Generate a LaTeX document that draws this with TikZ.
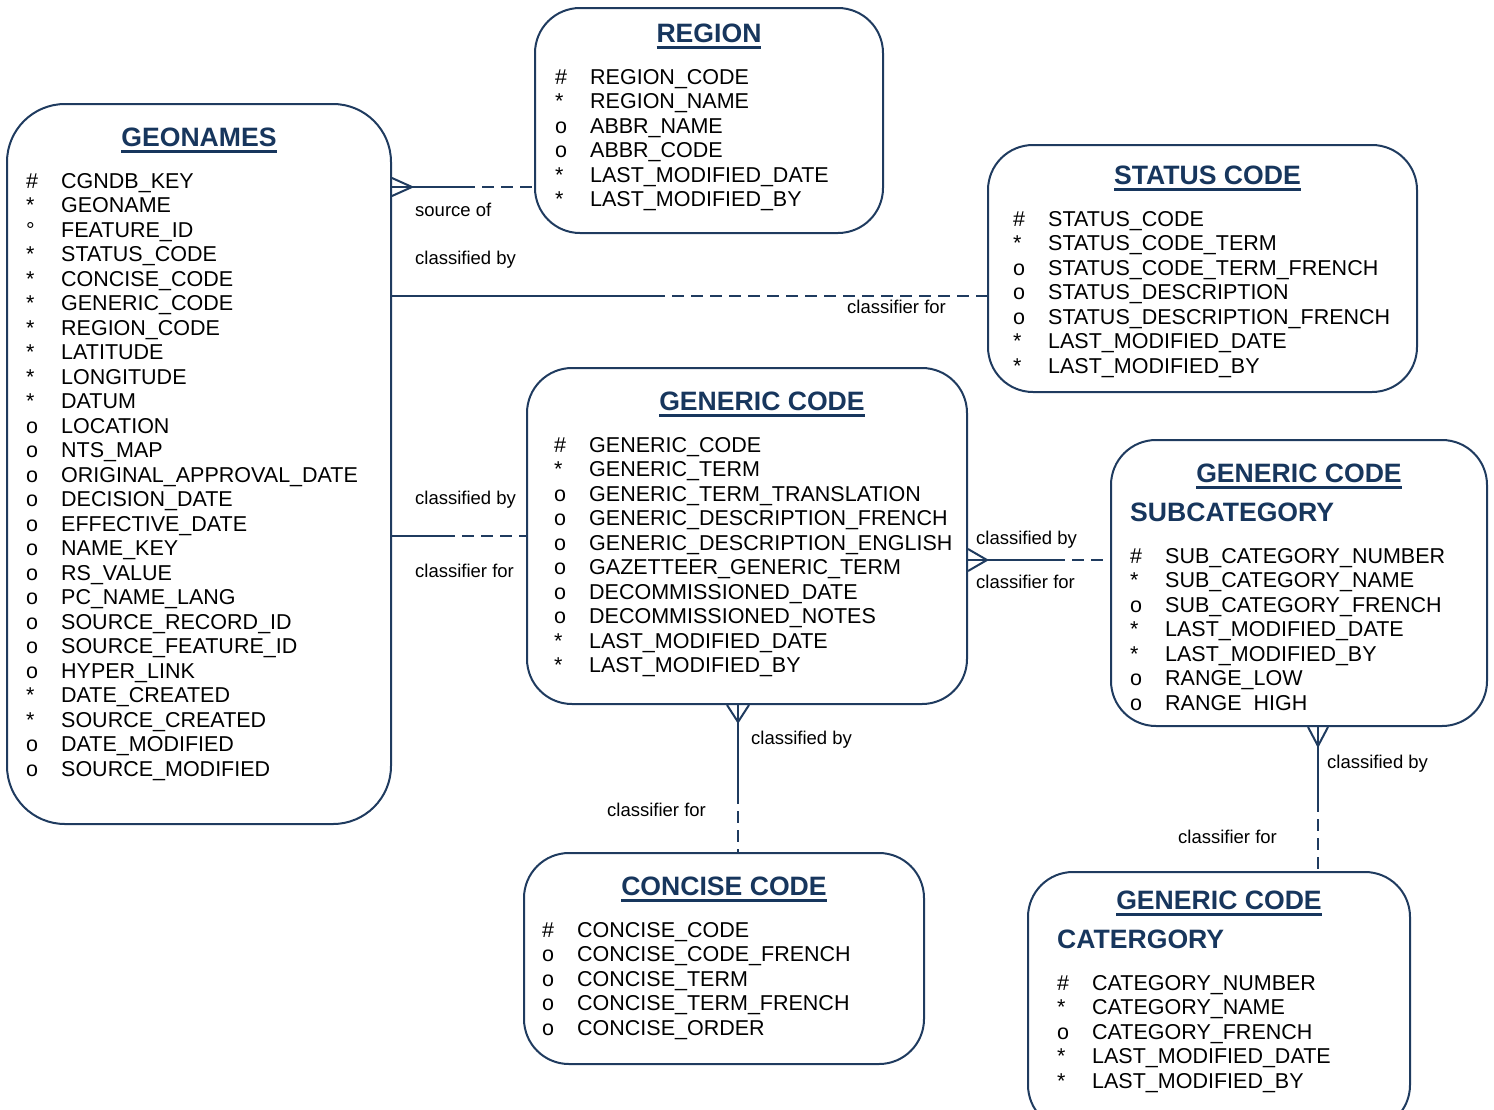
\documentclass[tikz,border=0pt]{standalone}
\usepackage{fontspec}
\setmainfont{Liberation Sans}
\usepackage{xcolor}
\usepackage{tikz}
\usetikzlibrary{positioning}

\definecolor{erblue}{HTML}{1F3B5F}
\definecolor{titleblue}{HTML}{17365D}
\newcommand{\entline}[1]{\setbox0\hbox{#1}\rlap{\rule[-6.5pt]{\wd0}{2.8pt}}\box0}
\newcommand{\attrs}[1]{\begin{tabular}{@{}p{35pt}@{}l@{}}#1\end{tabular}}

\begin{document}
\begin{tikzpicture}[x=1pt,y=1pt,
  entity/.style={draw=erblue,line width=2pt,rounded corners=45pt,inner sep=0pt},
  title/.style={font=\fontsize{26.6}{30}\selectfont\bfseries,text=titleblue,inner sep=0pt,anchor=base},
  subtitle/.style={font=\fontsize{26.6}{30}\selectfont\bfseries,text=titleblue,inner sep=0pt,anchor=base west},
  attrlist/.style={font=\fontsize{21.5}{24.5}\selectfont,inner sep=0pt},
  rel/.style={font=\fontsize{18.5}{22}\selectfont,inner sep=0pt,anchor=base west},
  solidpart/.style={draw=erblue,line width=2pt},
  dashpart/.style={draw=erblue,line width=2pt,dash pattern=on 12pt off 7pt},
  crow/.style={draw=erblue,line width=2pt,line join=miter}]

\useasboundingbox (0,0) rectangle (1494,-1109);

\node[entity, rounded corners=58pt, minimum width=384pt, minimum height=720pt] (geonames) at (199,-464) {};
\node[entity, minimum width=348pt, minimum height=225pt] (region) at (709,-120.5) {};
\node[entity, minimum width=429pt, minimum height=247pt] (status) at (1202.5,-268.5) {};
\node[entity, minimum width=440pt, minimum height=336pt] (generic) at (747,-536) {};
\node[entity, minimum width=376pt, minimum height=286pt] (subcat) at (1299,-583) {};
\node[entity, minimum width=400pt, minimum height=211pt] (concise) at (724,-958.5) {};
\node[entity, minimum width=382pt, minimum height=258pt] (category) at (1219,-1001) {};

\node[title] (geonames title) at ([yshift=-43pt]geonames.north) {\entline{GEONAMES}};
\node[title] (region title) at ([yshift=-35pt]region.north) {\entline{REGION}};
\node[title] (status title) at ([xshift=5pt,yshift=-40pt]status.north) {\entline{STATUS CODE}};
\node[title] (generic title) at ([xshift=15pt,yshift=-43pt]generic.north) {\entline{GENERIC CODE}};
\node[title] (subcat title) at ([yshift=-43pt]subcat.north) {\entline{GENERIC CODE}};
\node[subtitle] (subcat sub) at ([shift={(20pt,-82pt)}]subcat.north west) {SUBCATEGORY};
\node[title] (concise title) at ([yshift=-43pt]concise.north) {\entline{CONCISE CODE}};
\node[title] (category title) at ([yshift=-38pt]category.north) {\entline{GENERIC CODE}};
\node[subtitle] (category sub) at ([shift={(30pt,-77pt)}]category.north west) {CATERGORY};

\node[attrlist, below right=68pt and 20pt of geonames.north west] (geonames attrs) {\attrs{%
  \# & CGNDB\_KEY\\
  {*} & GEONAME\\
  ° & FEATURE\_ID\\
  {*} & STATUS\_CODE\\
  {*} & CONCISE\_CODE\\
  {*} & GENERIC\_CODE\\
  {*} & REGION\_CODE\\
  {*} & LATITUDE\\
  {*} & LONGITUDE\\
  {*} & DATUM\\
  o & LOCATION\\
  o & NTS\_MAP\\
  o & ORIGINAL\_APPROVAL\_DATE\\
  o & DECISION\_DATE\\
  o & EFFECTIVE\_DATE\\
  o & NAME\_KEY\\
  o & RS\_VALUE\\
  o & PC\_NAME\_LANG\\
  o & SOURCE\_RECORD\_ID\\
  o & SOURCE\_FEATURE\_ID\\
  o & HYPER\_LINK\\
  {*} & DATE\_CREATED\\
  {*} & SOURCE\_CREATED\\
  o & DATE\_MODIFIED\\
  o & SOURCE\_MODIFIED}};

\node[attrlist, below right=60pt and 21pt of region.north west] (region attrs) {\attrs{%
  \# & REGION\_CODE\\
  {*} & REGION\_NAME\\
  o & ABBR\_NAME\\
  o & ABBR\_CODE\\
  {*} & LAST\_MODIFIED\_DATE\\
  {*} & LAST\_MODIFIED\_BY}};

\node[attrlist, below right=65pt and 26pt of status.north west] (status attrs) {\attrs{%
  \# & STATUS\_CODE\\
  {*} & STATUS\_CODE\_TERM\\
  o & STATUS\_CODE\_TERM\_FRENCH\\
  o & STATUS\_DESCRIPTION\\
  o & STATUS\_DESCRIPTION\_FRENCH\\
  {*} & LAST\_MODIFIED\_DATE\\
  {*} & LAST\_MODIFIED\_BY}};

\node[attrlist, below right=68pt and 28pt of generic.north west] (generic attrs) {\attrs{%
  \# & GENERIC\_CODE\\
  {*} & GENERIC\_TERM\\
  o & GENERIC\_TERM\_TRANSLATION\\
  o & GENERIC\_DESCRIPTION\_FRENCH\\
  o & GENERIC\_DESCRIPTION\_ENGLISH\\
  o & GAZETTEER\_GENERIC\_TERM\\
  o & DECOMMISSIONED\_DATE\\
  o & DECOMMISSIONED\_NOTES\\
  {*} & LAST\_MODIFIED\_DATE\\
  {*} & LAST\_MODIFIED\_BY}};

\node[attrlist, below right=107pt and 20pt of subcat.north west] (subcat attrs) {\attrs{%
  \# & SUB\_CATEGORY\_NUMBER\\
  {*} & SUB\_CATEGORY\_NAME\\
  o & SUB\_CATEGORY\_FRENCH\\
  {*} & LAST\_MODIFIED\_DATE\\
  {*} & LAST\_MODIFIED\_BY\\
  o & RANGE\_LOW\\
  o & RANGE\ \ HIGH}};

\node[attrlist, below right=68pt and 19pt of concise.north west] (concise attrs) {\attrs{%
  \# & CONCISE\_CODE\\
  o & CONCISE\_CODE\_FRENCH\\
  o & CONCISE\_TERM\\
  o & CONCISE\_TERM\_FRENCH\\
  o & CONCISE\_ORDER}};

\node[attrlist, below right=102pt and 30pt of category.north west] (category attrs) {\attrs{%
  \# & CATEGORY\_NUMBER\\
  {*} & CATEGORY\_NAME\\
  o & CATEGORY\_FRENCH\\
  {*} & LAST\_MODIFIED\_DATE\\
  {*} & LAST\_MODIFIED\_BY}};

\coordinate (reg split) at (463,-187);
\coordinate (stat split) at (653,-296);
\coordinate (gen split) at (443,-536);
\coordinate (sub split) at (1053,-560);
\coordinate (con split) at (738,-792);
\coordinate (cat split) at (1318,-800);

\coordinate (reg foot) at (geonames.east |- reg split);
\coordinate (sub foot) at (generic.east |- sub split);
\coordinate (con foot) at (generic.south -| con split);
\coordinate (cat foot) at (subcat.south -| cat split);

\draw[solidpart] (reg foot) -- (reg split);
\draw[dashpart] (reg split) -- (region.west |- reg split);
\draw[crow] ([yshift=9pt]reg foot) -- ([xshift=20pt]reg foot) -- ([yshift=-9pt]reg foot);

\draw[solidpart] (geonames.east |- stat split) -- (stat split);
\draw[dashpart] (stat split) -- (status.west |- stat split);

\draw[solidpart] (geonames.east |- gen split) -- (gen split);
\draw[dashpart] (gen split) -- (generic.west |- gen split);

\draw[solidpart] (sub foot) -- (sub split);
\draw[dashpart] (sub split) -- (subcat.west |- sub split);
\draw[crow] ([yshift=11pt]sub foot) -- ([xshift=19pt]sub foot) -- ([yshift=-11pt]sub foot);

\draw[solidpart] (con foot) -- (con split);
\draw[dashpart] (con split) -- (concise.north -| con split);
\draw[crow] ([xshift=-11pt]con foot) -- ([yshift=-17pt]con foot) -- ([xshift=11pt]con foot);

\draw[solidpart] (cat foot) -- (cat split);
\draw[dashpart] (cat split) -- (category.north -| cat split);
\draw[crow] ([xshift=-10pt]cat foot) -- ([yshift=-19pt]cat foot) -- ([xshift=10pt]cat foot);

\node[rel] (reg src) at (415,-216) {source of};
\node[rel] (stat by) at (415,-264) {classified by};
\node[rel] (stat for) at (847,-313) {classifier for};
\node[rel] (gen by) at (415,-504) {classified by};
\node[rel] (gen for) at (415,-577) {classifier for};
\node[rel] (sub by) at (976,-544) {classified by};
\node[rel] (sub for) at (976,-588) {classifier for};
\node[rel] (con by) at (751,-744) {classified by};
\node[rel] (con for) at (607,-816) {classifier for};
\node[rel] (cat by) at (1327,-768) {classified by};
\node[rel] (cat for) at (1178,-843) {classifier for};
\end{tikzpicture}
\end{document}
